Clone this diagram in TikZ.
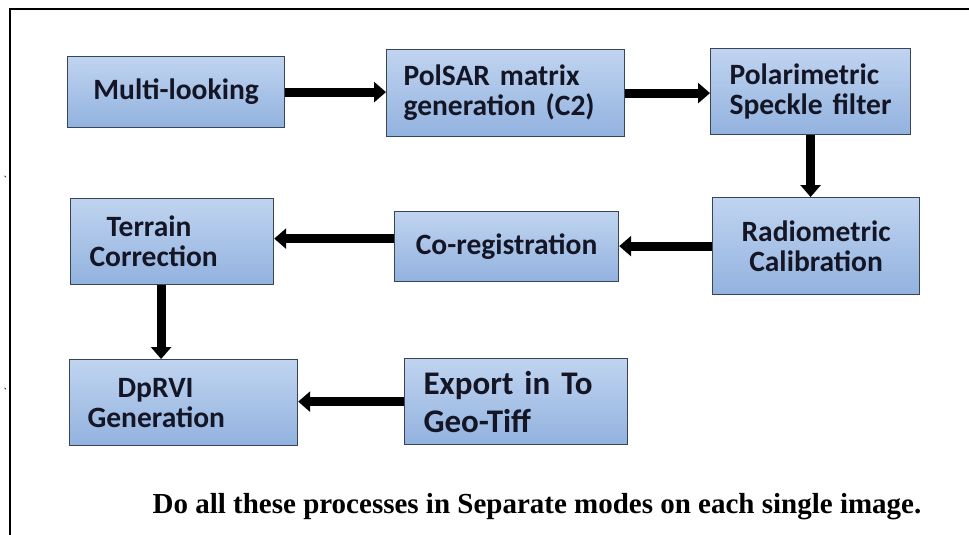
\documentclass[tikz,border=0pt]{standalone}
\usepackage{fontspec}
\usepackage{tikz}
\usetikzlibrary{arrows.meta,calc}
\usepackage{xcolor}

\newfontfamily\boxfont{Carlito}
\newfontfamily\notefont{Liberation Serif}

\definecolor{boxtop}{RGB}{192,212,240}
\definecolor{boxbottom}{RGB}{146,178,223}
\definecolor{boxedge}{RGB}{58,68,88}
\definecolor{boxtext}{RGB}{20,22,38}

\tikzset{
    procbox/.style={draw=boxedge, line width=1.2pt, top color=boxtop, bottom color=boxbottom,
        anchor=north west, inner ysep=0pt, text=boxtext,
        font=\boxfont\bfseries\fontsize{29.5}{30}\selectfont},
    flow/.style={line width=9pt, -{Triangle[length=12pt,width=20pt]}}
}

\begin{document}
\begin{tikzpicture}[x=1pt, y=-1pt]
        \useasboundingbox (0,0) rectangle (969,535);

        % Frame
        \draw[line width=2.5pt] (10,540) -- (10,9) -- (975,9);
        \node[font=\boxfont\fontsize{12}{12}\selectfont] (tickA) at (5,180) {\textasciigrave};
        \node[font=\boxfont\fontsize{12}{12}\selectfont] (tickB) at (5,392) {\textasciigrave};

        % First row
        \node[procbox, minimum width=217pt, minimum height=71pt] (multilook) at (67,56) {Multi-looking};
        \node[procbox, text width=204pt, inner xsep=17pt, align=left, minimum height=87pt] (polsar) at (386,49) {PolSAR matrix\\generation (C2)};
        \node[procbox, text width=170pt, inner xsep=15pt, align=left, minimum height=86pt] (speckle) at (710,48) {\hspace*{4pt}Polarimetric\\\hspace*{4pt}Speckle filter};

        % Second row
        \node[procbox, minimum width=207pt, minimum height=97pt, align=center] (radiocal) at (712,197) {Radiometric\\Calibration};
        \node[procbox, minimum width=224pt, minimum height=70pt] (coreg) at (394,211) {Co-registration};
        \node[procbox, text width=165pt, inner xsep=19pt, align=left, minimum height=86pt] (terrain) at (70,198) {\hspace*{17pt}Terrain\\Correction};

        % Third row
        \node[procbox, text width=192pt, inner xsep=18pt, align=left, minimum height=86pt] (dprvi) at (69,359) {\hspace*{30pt}DpRVI\\Generation};
        \node[procbox, text width=185pt, inner xsep=19pt, align=left, minimum height=86pt,
            font=\boxfont\bfseries\fontsize{33}{38}\selectfont] (export) at (404,358) {Export in To\\Geo-Tiff};

        % Arrows
        \draw[flow] (multilook.east) -- (multilook.east -| polsar.west);
        \draw[flow] (polsar.east) -- (polsar.east -| speckle.west);
        \draw[flow] (speckle.south) -- (speckle.south |- radiocal.north);
        \draw[flow] (radiocal.west) -- (radiocal.west -| coreg.east);
        \draw[flow] ([yshift=8pt]coreg.west) -- ([yshift=8pt]coreg.west -| terrain.east);
        \draw[flow] ([xshift=-11pt]terrain.south) -- ([xshift=-11pt]terrain.south |- dprvi.north);
        \draw[flow] (export.west) -- (export.west -| dprvi.east);

        % Note
        \node[anchor=base, font=\notefont\bfseries\fontsize{29}{32}\selectfont] (note) at (537,513) {Do all these processes in Separate modes on each single image.};
    \end{tikzpicture}
\end{document}
